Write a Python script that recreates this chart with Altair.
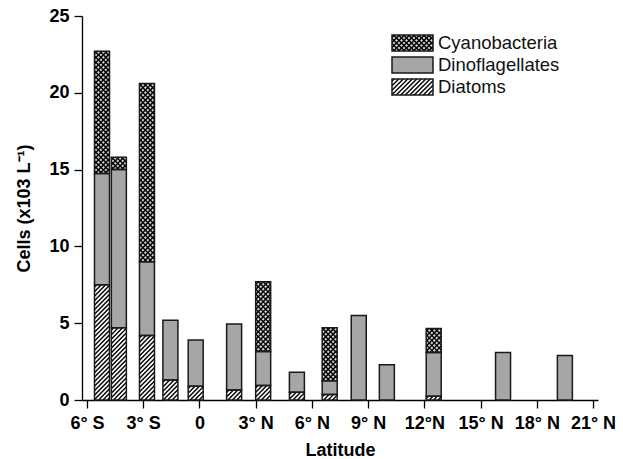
import altair as alt
import numpy as np
import pandas as pd

# ---------------- data ----------------
latitude = [-5.2, -4.3, -2.8, -1.55, -0.2, 1.85, 3.4, 5.2, 6.95, 8.5, 10.0, 12.5, 16.2, 19.5]
diatoms = [7.5, 4.7, 4.2, 1.3, 0.9, 0.65, 0.95, 0.5, 0.35, 0, 0, 0.25, 0, 0]
dinoflagellates = [7.25, 10.3, 4.8, 3.9, 3.0, 4.3, 2.2, 1.3, 0.9, 5.5, 2.3, 2.85, 3.1, 2.9]
cyanobacteria = [7.95, 0.8, 11.6, 0, 0, 0, 4.55, 0, 3.45, 0, 0, 1.55, 0, 0]
groups = ["Diatoms", "Dinoflagellates", "Cyanobacteria"]          # bottom -> top
legend_order = ["Cyanobacteria", "Dinoflagellates", "Diatoms"]    # top -> bottom
x_ticks = [-6, -3, 0, 3, 6, 9, 12, 15, 18, 21]
x_tick_labels = ["6° S", "3° S", "0", "3° N", "6° N", "9° N", "12°N", "15° N", "18° N", "21° N"]
y_ticks = [0, 2.5, 5, 7.5, 10, 12.5, 15, 17.5, 20, 22.5, 25]
y_labels_every = 5
x_title = "Latitude"
y_title = "Cells (x103 L⁻¹)"

# ---------------- styles / layout ----------------
FONT = "Liberation Sans"
W, H = 516, 384
X_DOM, Y_DOM = [-6, 21], [0, 25]
BAR_PX = 15
FILLS = {"Diatoms": "#ffffff", "Dinoflagellates": "#a6a6a6", "Cyanobacteria": "#cfcfcf"}
HATCH = {"Diatoms": (["/"], 4.5), "Cyanobacteria": (["/", "\\"], 5.0)}
LEG_X0, LEG_W, LEG_Y0, LEG_H, LEG_STEP, LEG_TXT_DX = 310, 41, 19, 16, 22, 46

kx = W / (X_DOM[1] - X_DOM[0])
ky = H / (Y_DOM[1] - Y_DOM[0])


def hatch_segments(w, h, kinds, spacing):
    """Diagonal hatch segments inside a w x h pixel box (y measured upward)."""
    segs = []
    for kind in kinds:
        if kind == "/":
            for c in np.arange(-h + spacing / 2, w, spacing):
                lo, hi = max(0.0, -c), min(h, w - c)
                if hi > lo:
                    segs.append((c + lo, lo, c + hi, hi))
        else:
            for d in np.arange(spacing / 2, w + h, spacing):
                lo, hi = max(0.0, d - w), min(h, d)
                if hi > lo:
                    segs.append((d - lo, lo, d - hi, hi))
    return segs


# stacked segments
series = {"Diatoms": diatoms, "Dinoflagellates": dinoflagellates, "Cyanobacteria": cyanobacteria}
rows = []
for i, lat in enumerate(latitude):
    base = 0.0
    for g in groups:
        v = series[g][i]
        if v > 0:
            rows.append({"lat": lat, "group": g, "y0": base, "y1": base + v})
            base += v
seg = pd.DataFrame(rows)

# hatch lines for bars, in data units
hrows = []
for r in rows:
    if r["group"] not in HATCH:
        continue
    kinds, sp = HATCH[r["group"]]
    h = (r["y1"] - r["y0"]) * ky
    left = r["lat"] - BAR_PX / 2 / kx
    for (a, b, c, d) in hatch_segments(BAR_PX, h, kinds, sp):
        hrows.append({"hx": left + a / kx, "hy": r["y0"] + b / ky,
                      "hx2": left + c / kx, "hy2": r["y0"] + d / ky})
hatch = pd.DataFrame(hrows)

# legend (pixel space)
leg = pd.DataFrame([{"group": g,
                     "lx0": LEG_X0, "lx1": LEG_X0 + LEG_W,
                     "ly0": LEG_Y0 + k * LEG_STEP, "ly1": LEG_Y0 + k * LEG_STEP + LEG_H,
                     "tx": LEG_X0 + LEG_TXT_DX, "ty": LEG_Y0 + k * LEG_STEP + LEG_H / 2}
                    for k, g in enumerate(legend_order)])
lrows = []
for _, r in leg.iterrows():
    if r["group"] not in HATCH:
        continue
    kinds, sp = HATCH[r["group"]]
    for (a, b, c, d) in hatch_segments(LEG_W, LEG_H, kinds, sp):
        lrows.append({"hx": r["lx0"] + a, "hy": r["ly1"] - b, "hx2": r["lx0"] + c, "hy2": r["ly1"] - d})
leg_hatch = pd.DataFrame(lrows)

# ---------------- scales & axes ----------------
label_expr = ""
for v, t in zip(x_ticks, x_tick_labels):
    label_expr += f"datum.value == {v} ? '{t}' : "
label_expr += "''"

xscale = alt.Scale(domain=X_DOM, nice=False, zero=False)
yscale = alt.Scale(domain=Y_DOM, nice=False)
xaxis = alt.Axis(values=x_ticks, labelExpr=label_expr, title=x_title, grid=False,
                 tickSize=8, tickWidth=1.3, domainWidth=1.3, domainColor="black", tickColor="black",
                 labelFont=FONT, labelFontSize=18, labelFontWeight="bold", labelColor="black",
                 labelPadding=6, labelFlush=False, labelOverlap=False,
                 titleFont=FONT, titleFontSize=18, titleFontWeight="bold", titleColor="black",
                 titlePadding=9)
yaxis = alt.Axis(values=y_ticks, labelExpr=f"datum.value % {y_labels_every} == 0 ? datum.label : ''",
                 title=y_title, grid=False,
                 tickSize=8, tickWidth=1.3, domainWidth=1.3, domainColor="black", tickColor="black",
                 labelFont=FONT, labelFontSize=18, labelFontWeight="bold", labelColor="black",
                 labelPadding=5, labelOverlap=False,
                 titleFont=FONT, titleFontSize=18, titleFontWeight="bold", titleColor="black",
                 titlePadding=15)
fill = alt.Fill("group:N", scale=alt.Scale(domain=list(FILLS.keys()), range=list(FILLS.values())),
                legend=None)

bars = alt.Chart(seg).mark_bar(size=BAR_PX, strokeWidth=0).encode(
    x=alt.X("lat:Q", scale=xscale, axis=xaxis),
    y=alt.Y("y0:Q", scale=yscale, axis=yaxis),
    y2="y1:Q",
    fill=fill,
)
hatch_layer = alt.Chart(hatch).mark_rule(color="black", strokeWidth=1.4).encode(
    x="hx:Q", x2="hx2:Q", y="hy:Q", y2="hy2:Q")
outline = alt.Chart(seg).mark_bar(size=BAR_PX, fillOpacity=0, stroke="#1a1a1a", strokeWidth=1.5).encode(
    x="lat:Q", y="y0:Q", y2="y1:Q")

pix_x = lambda f: alt.X(f, scale=None, axis=None)
pix_y = lambda f: alt.Y(f, scale=None, axis=None)
leg_rect = alt.Chart(leg).mark_rect(strokeWidth=0).encode(
    x=pix_x("lx0:Q"), x2="lx1:Q", y=pix_y("ly0:Q"), y2="ly1:Q", fill=fill)
leg_hatch_layer = alt.Chart(leg_hatch).mark_rule(color="black", strokeWidth=1.4).encode(
    x=pix_x("hx:Q"), x2="hx2:Q", y=pix_y("hy:Q"), y2="hy2:Q")
leg_outline = alt.Chart(leg).mark_rect(fillOpacity=0, stroke="#1a1a1a", strokeWidth=1.5).encode(
    x=pix_x("lx0:Q"), x2="lx1:Q", y=pix_y("ly0:Q"), y2="ly1:Q")
leg_text = alt.Chart(leg).mark_text(align="left", baseline="middle", font=FONT, fontSize=18.5,
                                    color="#111").encode(
    x=pix_x("tx:Q"), y=pix_y("ty:Q"), text="group:N")

chart = alt.layer(bars, hatch_layer, outline, leg_rect, leg_hatch_layer, leg_outline, leg_text).properties(
    width=W, height=H,
    autosize=alt.AutoSizeParams(type="none"),
    padding={"left": 82, "top": 16, "right": 25, "bottom": 59},
    background="white",
).configure_view(stroke=None)

chart.save("out.html", embed_options={"renderer": "svg", "actions": False})
